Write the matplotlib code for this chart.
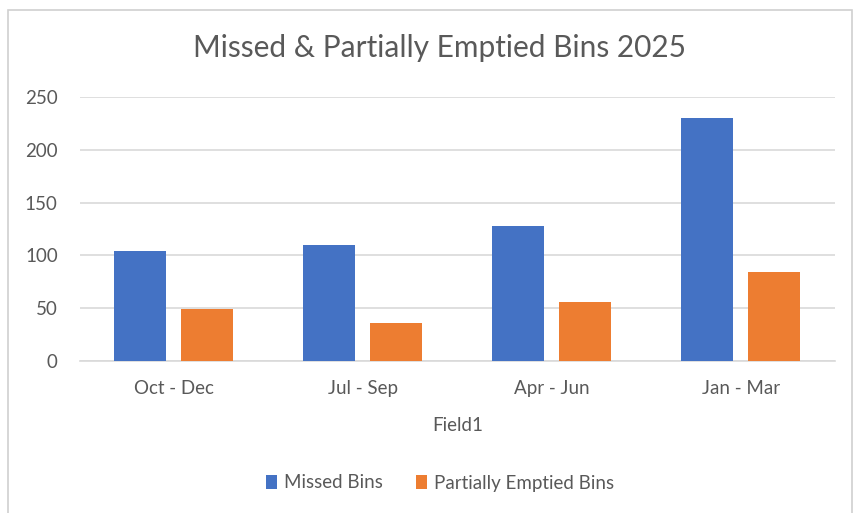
import matplotlib.pyplot as plt
import matplotlib.patches as patches
import numpy as np

categories = ["Oct - Dec", "Jul - Sep", "Apr - Jun", "Jan - Mar"]
missed = [104, 110, 128, 230]
partial = [49, 36, 56, 84]
series_names = ["Missed Bins", "Partially Emptied Bins"]
yticks = [0, 50, 100, 150, 200, 250]

blue = "#4472C4"
orange = "#ED7D31"
grey_txt = "#595959"
plt.rcParams['font.family'] = ['Lato', 'DejaVu Sans']

fig = plt.figure(figsize=(8.67, 5.13), dpi=100)
ax = fig.add_axes([80/867, 1 - 361/513, 755/867, 264/513])

x = np.arange(len(categories))
w = 0.275
ax.bar(x - 0.18, missed, w, color=blue, label=series_names[0], zorder=3)
ax.bar(x + 0.175, partial, w, color=orange, label=series_names[1], zorder=3)

ax.set_xlim(-0.5, len(categories) - 0.5)
ax.set_ylim(0, 250)
ax.set_yticks(yticks)
ax.set_xticks(x)
ax.set_xticklabels(categories)
ax.yaxis.grid(True, color="#d9d9d9", linewidth=1.2, zorder=0)
for s in ["top", "right", "left"]:
    ax.spines[s].set_visible(False)
ax.spines["bottom"].set_color("#d9d9d9")
ax.spines["bottom"].set_linewidth(1.2)
ax.tick_params(axis="both", length=0, labelsize=13.5, labelcolor=grey_txt)
ax.tick_params(axis="x", pad=14)
ax.tick_params(axis="y", pad=16)
ax.set_xlabel("Field1", fontsize=13.5, color=grey_txt, labelpad=14)

fig.text(440/867, 1 - 57/513, "Missed & Partially Emptied Bins 2025",
         ha="center", va="baseline", fontsize=21.5, color=grey_txt)

fig.legend(loc="center", bbox_to_anchor=(440/867, 1 - 483/513), ncol=2,
           frameon=False, fontsize=13.5, labelcolor=grey_txt,
           handlelength=0.6, handleheight=0.75, handletextpad=0.35, columnspacing=1.8)

# chart frame
fig.patches.append(patches.Rectangle((8/867, -0.01), 844/867, 1 - 10/513 + 0.01,
                                     transform=fig.transFigure, fill=False,
                                     edgecolor="#d0d0d0", linewidth=1.2))

plt.savefig("out.png")
plt.close()
